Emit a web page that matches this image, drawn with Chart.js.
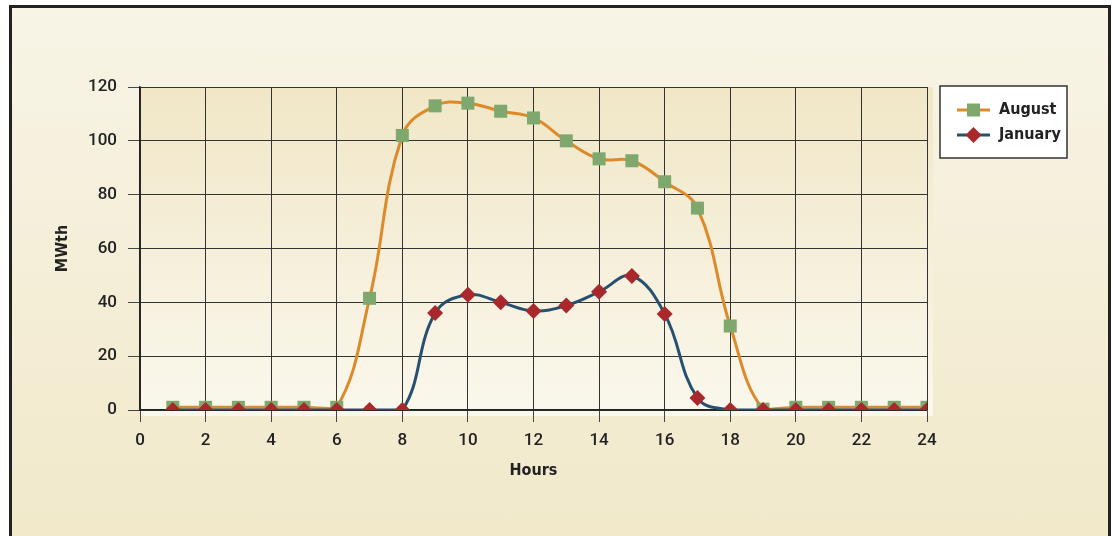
<!DOCTYPE html>
<html>
<head>
<meta charset="utf-8">
<script src="https://cdn.jsdelivr.net/npm/chart.js@4"></script>
<style>
  html, body { margin: 0; padding: 0; background: #fff; overflow: hidden; }
  #frame {
    position: absolute; left: 9px; top: 5px; width: 1096px; height: 620px;
    border: 3px solid #222; border-bottom: none;
    background: linear-gradient(to bottom, #f8f4e6 0px, #f1e9ca 531px);
  }
  #wrap { position: absolute; left: 0; top: 0; width: 1113px; height: 536px; }
</style>
</head>
<body>
<div id="frame"></div>
<div id="wrap"><canvas id="chart" width="1113" height="536"></canvas></div>
<script>
const hours = [1, 2, 3, 4, 5, 6, 7, 8, 9, 10, 11, 12, 13, 14, 15, 16, 17, 18, 19, 20, 21, 22, 23, 24];
const august = [1, 1, 1, 1, 1, 1, 41.5, 102, 113, 114, 111, 108.5, 100, 93.3, 92.6, 84.8, 75, 31.2, 0.3, 1, 1, 1, 1, 1];
const january = [0, 0, 0, 0, 0, 0, 0, 0, 36, 42.8, 40, 36.8, 38.8, 43.9, 49.8, 35.7, 4.5, 0, 0, 0, 0, 0, 0, 0];
const xTicks = { min: 0, max: 24, step: 2 };
const yTicks = { min: 0, max: 120, step: 20 };

const toPoints = (values) => hours.map((h, i) => ({ x: h, y: values[i] }));

const FONT = "Roboto, 'Liberation Sans', sans-serif";
const TITLE_FONT = "'Liberation Sans Narrow', 'DejaVu Sans Condensed', sans-serif";

// plot area gradient
const plotBg = {
  id: "plotBg",
  beforeDraw(chart) {
    const { ctx, chartArea: a } = chart;
    const g = ctx.createLinearGradient(0, a.top, 0, a.bottom);
    g.addColorStop(0, "#f1e7c7");
    g.addColorStop(1, "#faf7ec");
    ctx.save();
    ctx.fillStyle = g;
    ctx.fillRect(a.left, a.top, a.right - a.left + 6, a.bottom - a.top + 6);
    ctx.restore();
  },
};

// legend box with line + marker like the original
const boxLegend = {
  id: "boxLegend",
  afterDraw(chart) {
    const { ctx } = chart;
    const x0 = 940, y0 = 86, w = 127, h = 72;
    ctx.save();
    ctx.fillStyle = "#fff";
    ctx.fillRect(x0, y0, w, h);
    ctx.strokeStyle = "#333";
    ctx.lineWidth = 1.5;
    ctx.strokeRect(x0, y0, w, h);
    const items = [chart.data.datasets[1], chart.data.datasets[0]];
    items.forEach((ds, i) => {
      const y = 110 + i * 25;
      ctx.strokeStyle = ds.borderColor;
      ctx.lineWidth = 3;
      ctx.beginPath();
      ctx.moveTo(957, y);
      ctx.lineTo(990, y);
      ctx.stroke();
      ctx.fillStyle = ds.pointBackgroundColor;
      ctx.beginPath();
      if (ds.pointStyle === "rect") {
        ctx.rect(967, y - 6.5, 13, 13);
      } else {
        ctx.moveTo(973.5, y - 8);
        ctx.lineTo(981.5, y);
        ctx.lineTo(973.5, y + 8);
        ctx.lineTo(965.5, y);
        ctx.closePath();
      }
      ctx.fill();
      ctx.fillStyle = "#222";
      ctx.font = "bold 16px " + TITLE_FONT;
      ctx.textBaseline = "middle";
      ctx.fillText(ds.label, 999, y);
    });
    ctx.restore();
  },
};

const context = document.getElementById("chart").getContext("2d");
const chart = new Chart(context, {
  type: "line",
  data: {
    datasets: [
      {
        label: "January",
        data: toPoints(january),
        borderColor: "#27506f",
        borderWidth: 3,
        pointStyle: "rectRot",
        pointRadius: 8,
        pointBorderWidth: 0,
        pointBackgroundColor: "#a8282b",
        tension: 0.4,
        order: 0,
      },
      {
        label: "August",
        data: toPoints(august),
        borderColor: "#dc8a2a",
        borderWidth: 3,
        pointStyle: "rect",
        pointRadius: 9.2,
        pointBorderWidth: 0,
        pointBackgroundColor: "#7ea86d",
        tension: 0.4,
        order: 1,
      },
    ],
  },
  options: {
    responsive: false,
    animation: false,
    layout: { padding: { left: 40, right: 186, top: 87, bottom: 46 } },
    plugins: { legend: { display: false }, tooltip: { enabled: false } },
    scales: {
      x: {
        type: "linear",
        min: xTicks.min,
        max: xTicks.max,
        afterFit: (s) => { s.height = 80; },
        ticks: { stepSize: xTicks.step, color: "#222", padding: 9, font: { family: FONT, size: 17, weight: "500" } },
        grid: { color: "#333", lineWidth: 1, tickLength: 12, tickColor: "#444" },
        border: { color: "#222", width: 1.5 },
        title: { display: true, text: "Hours", color: "#222", padding: { top: 0, bottom: 10 }, font: { family: TITLE_FONT, size: 16, weight: "bold" } },
      },
      y: {
        min: yTicks.min,
        max: yTicks.max,
        afterFit: (s) => { s.width = 100; },
        ticks: { stepSize: yTicks.step, color: "#222", padding: 11, font: { family: FONT, size: 17, weight: "500" } },
        grid: { color: "#333", lineWidth: 1, tickLength: 12, tickColor: "#444" },
        border: { color: "#222", width: 1.5 },
        title: { display: true, text: "MWth", color: "#222", padding: { top: 13, bottom: 0 }, font: { family: TITLE_FONT, size: 16, weight: "bold" } },
      },
    },
  },
  plugins: [plotBg, boxLegend],
});
</script>
</body>
</html>
